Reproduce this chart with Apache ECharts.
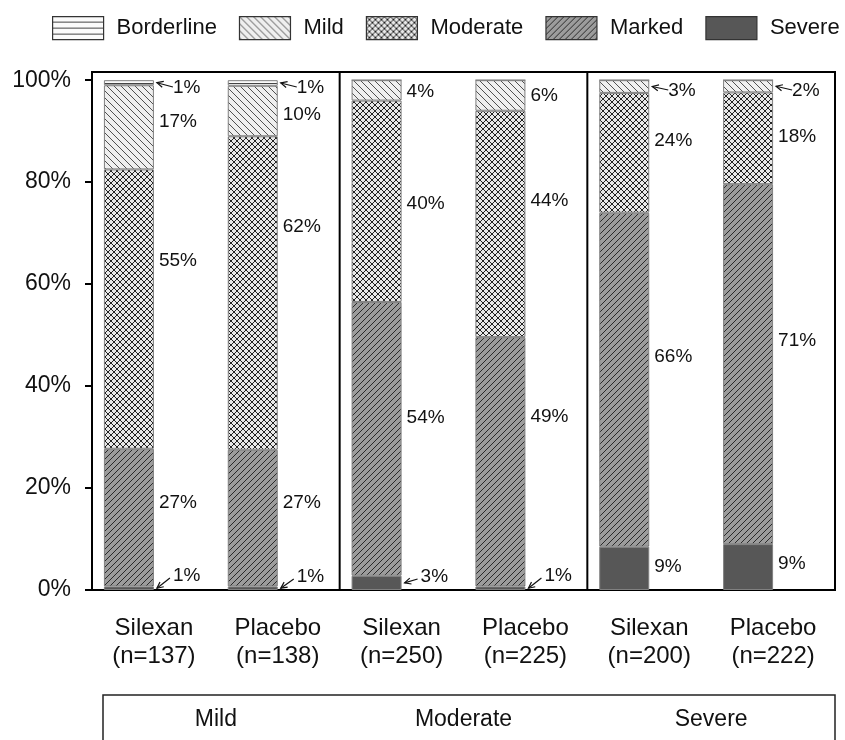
<!DOCTYPE html>
<html><head><meta charset="utf-8">
<script src="https://cdn.jsdelivr.net/npm/echarts@6/dist/echarts.min.js"></script>
<style>html,body{margin:0;padding:0;background:#fff}#c{width:845px;height:740px}</style>
</head><body><div id="c"></div>
<script>
// ---------- data ----------
const categories = ['Silexan\n(n=137)', 'Placebo\n(n=138)', 'Silexan\n(n=250)', 'Placebo\n(n=225)', 'Silexan\n(n=200)', 'Placebo\n(n=222)'];
const groups = ['Mild', 'Moderate', 'Severe'];
const severe = [0.7, 0.7, 2.8, 0.7, 8.5, 9.0];
const marked = [27.0, 26.8, 53.7, 48.9, 65.5, 70.6];
const moderate = [54.8, 61.5, 39.5, 44.4, 23.5, 18.0];
const mild = [16.5, 9.9, 4.0, 6.0, 2.5, 2.4];
const borderline = [1.0, 1.1, 0, 0, 0, 0];
const yTicks = [0, 20, 40, 60, 80, 100];
const yMax = 101.6;
const legendNames = ['Borderline', 'Mild', 'Moderate', 'Marked', 'Severe'];

// ---------- label placement (style, pixels) ----------
const labelY = {
  Severe: [576, 577, 577, 576, 567, 564],
  Marked: [503, 503, 418, 417, 357, 341],
  Moderate: [261, 227, 204, 201, 141, 137],
  Mild: [122, 115, 92, 96, 91, 91],
  Borderline: [88, 88, null, null, null, null]
};
const arrowKind = {
  Severe: ['down', 'down', 'down', 'down', null, null],
  Mild: [null, null, null, null, 'left', 'left'],
  Borderline: ['left', 'left', null, null, null, null]
};

const FONT = "'Liberation Sans', Arial, sans-serif";

function tile(size, bg, stroke, draw) {
  const c = document.createElement('canvas');
  c.width = c.height = size;
  const g = c.getContext('2d');
  g.fillStyle = bg; g.fillRect(0, 0, size, size);
  g.strokeStyle = stroke; g.lineWidth = 1;
  g.beginPath(); draw(g, size); g.stroke();
  return { image: c, repeat: 'repeat' };
}
const back = (g, s) => { g.moveTo(0, 0); g.lineTo(s, s); g.moveTo(-1, s - 1); g.lineTo(1, s + 1); g.moveTo(s - 1, -1); g.lineTo(s + 1, 1); };
const fwd = (g, s) => { g.moveTo(0, s); g.lineTo(s, 0); g.moveTo(-1, 1); g.lineTo(1, -1); g.moveTo(s - 1, s + 1); g.lineTo(s + 1, s - 1); };
const patterns = {
  Borderline: tile(6, '#fafafa', '#444', (g, s) => { g.moveTo(0, s - 0.5); g.lineTo(s, s - 0.5); }),
  Mild: tile(7, '#efefef', '#505050', back),
  Moderate: tile(6, '#e8e8e8', '#222', (g, s) => { back(g, s); fwd(g, s); }),
  Marked: tile(6, '#9c9c9c', '#2a2a2a', fwd),
  Severe: '#575757'
};

const stackOrder = [
  ['Severe', severe], ['Marked', marked], ['Moderate', moderate], ['Mild', mild], ['Borderline', borderline]
];

const chart = echarts.init(document.getElementById('c'), null, { renderer: 'canvas' });

function makeSeries(withOffsets) {
  const list = stackOrder.map(([name, vals], si) => ({
    name, type: 'bar', stack: 'a', barWidth: 50, barGap: '0%',
    itemStyle: { color: patterns[name], borderColor: '#808080', borderWidth: 1 },
    label: {
      show: true, position: 'right', distance: 5, fontSize: 19, color: '#111', fontFamily: FONT,
      formatter: p => Math.round(p.value) + '%'
    },
    data: vals.map((v, i) => {
      const item = { value: v };
      if (!v) { item.label = { show: false }; return item; }
      if (withOffsets) item.label = { offset: withOffsets[si][i] };
      return item;
    })
  }));
  list.push({ name: 'pad', type: 'bar', stack: 'b', barWidth: 50, barGap: '0%', silent: true,
    itemStyle: { color: 'transparent' }, data: categories.map(() => null) });
  return list;
}

chart.setOption({
  animation: false,
  backgroundColor: '#fff',
  textStyle: { fontFamily: FONT },
  legend: {
    data: legendNames, left: 52, top: 16, padding: 0, itemWidth: 51, itemHeight: 23, itemGap: 22,
    icon: 'rect', selectedMode: false,
    itemStyle: { borderColor: '#333', borderWidth: 1.2 },
    textStyle: { fontSize: 22, color: '#111', fontFamily: FONT, padding: [0, 0, 0, 8] }
  },
  grid: { left: 92, right: 10, top: 72, bottom: 150, show: true, borderColor: '#000', borderWidth: 2 },
  xAxis: {
    type: 'category', data: categories,
    axisLine: { lineStyle: { color: '#000', width: 2 } },
    axisTick: { alignWithLabel: true, interval: 0, length: 6, lineStyle: { color: '#000', width: 2 } },
    axisLabel: { interval: 0, margin: 24, fontSize: 24, lineHeight: 28, color: '#111', fontFamily: FONT },
    splitLine: { show: false }
  },
  yAxis: {
    type: 'value', min: 0, max: yMax, interval: 20,
    axisLine: { show: true, lineStyle: { color: '#000', width: 2 } },
    axisTick: { show: true, length: 7, customValues: yTicks, lineStyle: { color: '#000', width: 2 } },
    axisLabel: { customValues: yTicks, margin: 21, fontSize: 23, color: '#111', fontFamily: FONT,
      formatter: v => (yTicks.indexOf(v) >= 0 ? v + '%' : '') },
    splitLine: { show: false }
  },
  series: makeSeries(null)
});

// ---------- label offsets & arrows from the chart's own scales ----------
const px = (i, v) => chart.convertToPixel({ gridIndex: 0 }, [i, v]);
const offsets = [];
const graphics = [];
const cum = categories.map(() => 0);
stackOrder.forEach(([name, vals], si) => {
  offsets[si] = [];
  vals.forEach((v, i) => {
    const b = cum[i], t = cum[i] + v;
    cum[i] = t;
    const mid = px(i, (b + t) / 2);
    const ly = labelY[name][i];
    const kind = arrowKind[name] ? arrowKind[name][i] : null;
    offsets[si][i] = [kind ? 14 : 0, ly == null ? 0 : ly - mid[1]];
    if (kind && v) {
      const xr = mid[0];
      const tip = [xr + 3, mid[1]];
      const tail = kind === 'left' ? [xr + 19, ly - 1] : [xr + 16, ly + 2];
      const ang = Math.atan2(tail[1] - tip[1], tail[0] - tip[0]);
      const h = 7, a = 0.45;
      graphics.push({ type: 'polyline', z: 100, silent: true,
        shape: { points: [tail, tip] }, style: { stroke: '#111', lineWidth: 1.2, fill: null } });
      graphics.push({ type: 'polyline', z: 100, silent: true,
        shape: { points: [
          [tip[0] + h * Math.cos(ang + a), tip[1] + h * Math.sin(ang + a)], tip,
          [tip[0] + h * Math.cos(ang - a), tip[1] + h * Math.sin(ang - a)]] },
        style: { stroke: '#111', lineWidth: 1.2, fill: null } });
    }
  });
});

// panel separators between the groups
const yBase = px(0, 0)[1];
const yTop = px(0, yMax)[1];
[1, 3].forEach(k => {
  const x = (px(k, 0)[0] + px(k + 1, 0)[0]) / 2;
  graphics.push({ type: 'line', silent: true, z: 50,
    shape: { x1: x, y1: yTop, x2: x, y2: yBase }, style: { stroke: '#000', lineWidth: 2 } });
});

// bottom group box
graphics.push({ type: 'rect', silent: true, shape: { x: 103, y: yBase + 105, width: 732, height: 80 },
  style: { fill: null, stroke: '#222', lineWidth: 1.5 } });
groups.forEach((g, k) => {
  const cx = (px(2 * k, 0)[0] + px(2 * k + 1, 0)[0]) / 2;
  graphics.push({ type: 'text', silent: true, x: cx, y: yBase + 130,
    style: { text: g, fontSize: 23, fontFamily: FONT, fill: '#111', align: 'center', verticalAlign: 'middle' } });
});

chart.setOption({ series: makeSeries(offsets), graphic: graphics });
</script></body></html>
